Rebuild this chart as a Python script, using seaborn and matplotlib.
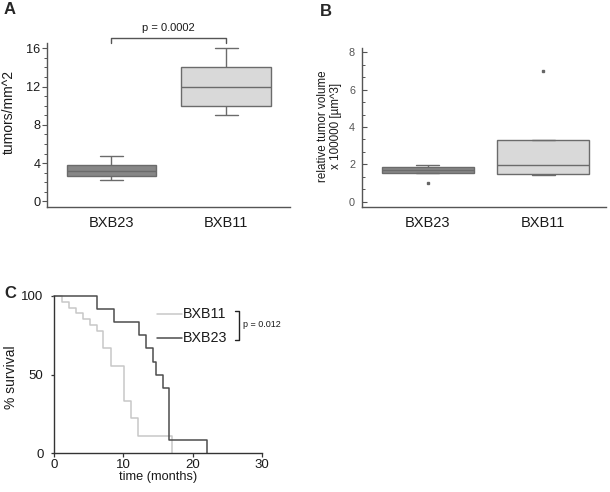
import numpy as np
import pandas as pd
import matplotlib
matplotlib.use("Agg")
import matplotlib.pyplot as plt
import seaborn as sns
from matplotlib.ticker import MultipleLocator

# ---------------- data ----------------
groups = ["BXB23", "BXB11"]

# Panel A: tumor density (tumors/mm^2)
density_bxb23 = [2.2, 2.7, 3.2, 3.85, 4.7]
density_bxb11 = [9.0, 10.0, 12.0, 14.0, 16.0]
p_density = "p = 0.0002"

# Panel B: relative tumor volume x 100000 [µm^3]
volume_bxb23 = [1.0, 1.55, 1.55, 1.72, 1.87, 1.87, 1.97]
volume_bxb11 = [1.45, 1.5, 1.95, 3.3, 7.0]

# Panel C: Kaplan-Meier survival
km_time_bxb11 = [0, 1.1, 2.2, 3.2, 4.2, 5.2, 6.2, 7.1, 8.2, 10.1, 11.1, 12.1, 17.0]
km_surv_bxb11 = [100, 96.3, 92.6, 88.9, 85.2, 81.5, 77.8, 66.7, 55.6, 33.3, 22.2, 11.1, 0]
km_time_bxb23 = [0, 6.15, 8.65, 12.2, 13.2, 14.2, 14.65, 15.65, 16.6, 22.0]
km_surv_bxb23 = [100, 91.7, 83.3, 75.0, 66.7, 58.3, 50.0, 41.7, 8.3, 0]
p_survival = "p = 0.012"

# ---------------- style ----------------
sns.set_theme(style="white")
plt.rcParams['font.family'] = ['Liberation Sans', 'DejaVu Sans']

W, H = 610, 492
fig = plt.figure(figsize=(W / 100, H / 100), dpi=100)


def rect(l, t, r, b):
    return [l / W, 1 - b / H, (r - l) / W, (b - t) / H]


palette = {"BXB23": "#878787", "BXB11": "#d9d9d9"}
edge = "#6b6b6b"
spine_col = "#555555"
txt = "#1a1a1a"


def style_box_axes(ax):
    for s in ["top", "right"]:
        ax.spines[s].set_visible(False)
    for s in ["left", "bottom"]:
        ax.spines[s].set_color(spine_col)
        ax.spines[s].set_linewidth(1.0)


# ---------------- Panel A ----------------
axA = fig.add_axes(rect(46.7, 43, 290, 206.7))
dfA = pd.DataFrame({
    "group": ["BXB23"] * len(density_bxb23) + ["BXB11"] * len(density_bxb11),
    "value": density_bxb23 + density_bxb11,
})
sns.boxplot(data=dfA, x="group", y="value", hue="group", order=groups,
            hue_order=groups, palette=palette, saturation=1, width=0.78,
            linecolor=edge, linewidth=1.0, legend=False, ax=axA,
            capwidths=0.2)
axA.set_xlim(-0.564, 1.555)
axA.set_ylim(-0.56, 16.55)
axA.set_yticks([0, 4, 8, 12, 16])
axA.yaxis.set_minor_locator(MultipleLocator(1))
style_box_axes(axA)
axA.tick_params(axis="y", which="major", left=True, direction="out",
                length=3.6, width=0.8, color=spine_col, pad=1,
                labelsize=9.2, labelcolor=txt)
axA.tick_params(axis="y", which="minor", left=True, direction="out",
                length=2.2, width=0.7, color=spine_col)
axA.tick_params(axis="x", length=0, pad=6.5, labelsize=10.5, labelcolor=txt)
axA.set_xlabel("")
axA.set_ylabel("tumors/mm^2", fontsize=10, color=txt)
axA.yaxis.set_label_coords(-0.125, 0.58)
# significance bracket
axA.plot([0, 0, 1, 1], [16.6, 17.05, 17.05, 16.6], color="#555555",
         lw=1.0, clip_on=False)
axA.text(0.5, 18.1, p_density, ha="center", va="center", fontsize=8,
         color=txt)

# ---------------- Panel B ----------------
axB = fig.add_axes(rect(362, 48, 606, 206.7))
dfB = pd.DataFrame({
    "group": ["BXB23"] * len(volume_bxb23) + ["BXB11"] * len(volume_bxb11),
    "value": volume_bxb23 + volume_bxb11,
})
sns.boxplot(data=dfB, x="group", y="value", hue="group", order=groups,
            hue_order=groups, palette=palette, saturation=1, width=0.8,
            linecolor=edge, linewidth=1.0, legend=False, ax=axB,
            capwidths=0.2,
            flierprops=dict(marker="s", markersize=1.7,
                            markerfacecolor="#666666",
                            markeredgecolor="#666666"))
axB.set_xlim(-0.57, 1.545)
axB.set_ylim(-0.27, 8.23)
axB.set_yticks([0, 2, 4, 6, 8])
axB.yaxis.set_minor_locator(MultipleLocator(2 / 3))
style_box_axes(axB)
axB.tick_params(axis="y", which="major", left=True, direction="in",
                length=3.6, width=0.8, color=spine_col, pad=5,
                labelsize=7.8, labelcolor="#555555")
axB.tick_params(axis="y", which="minor", left=True, direction="in",
                length=2.2, width=0.7, color=spine_col)
axB.tick_params(axis="x", length=0, pad=6.5, labelsize=10.5, labelcolor=txt)
axB.set_xlabel("")
axB.set_ylabel("relative tumor volume\nx 100000 [µm^3]", fontsize=8.4,
               color=txt, linespacing=1.1)
axB.yaxis.set_label_coords(-0.083, 0.508)

# ---------------- Panel C ----------------
axC = fig.add_axes(rect(54, 296, 262.3, 453.3))
sns.lineplot(x=km_time_bxb11, y=km_surv_bxb11, drawstyle="steps-post",
             color="#c8c8c8", lw=1.1, estimator=None, sort=False, ax=axC)
sns.lineplot(x=km_time_bxb23, y=km_surv_bxb23, drawstyle="steps-post",
             color="#4d4d4d", lw=1.1, estimator=None, sort=False, ax=axC)
for ln in axC.lines:
    ln.set_clip_on(False)
axC.set_xlim(0, 30)
axC.set_ylim(0, 100)
axC.set_xticks([0, 10, 20, 30])
axC.set_yticks([0, 50, 100])
for s in ["top", "right"]:
    axC.spines[s].set_visible(False)
for s in ["left", "bottom"]:
    axC.spines[s].set_color("#333333")
    axC.spines[s].set_linewidth(1.0)
axC.tick_params(axis="x", bottom=True, direction="out", length=3,
                width=0.9, color="#333333", pad=1, labelsize=9.5,
                labelcolor=txt)
axC.tick_params(axis="y", left=True, direction="out", length=2.5,
                width=0.9, color="#333333", pad=5, labelsize=9.5,
                labelcolor=txt)
axC.set_xlabel("time (months)", fontsize=9.2, color=txt, labelpad=0)
axC.set_ylabel("% survival", fontsize=10, color=txt)
axC.yaxis.set_label_coords(-0.173, 0.485)
# legend drawn manually
axC.plot([14.83, 18.4], [88.4, 88.4], color="#c8c8c8", lw=1.1, clip_on=False)
axC.plot([14.83, 18.4], [73.5, 73.5], color="#4d4d4d", lw=1.1, clip_on=False)
axC.text(18.6, 88.4, "BXB11", fontsize=10.3, va="center", ha="left", color=txt)
axC.text(18.6, 73.5, "BXB23", fontsize=10.3, va="center", ha="left", color=txt)
axC.plot([26.06, 26.7, 26.7, 26.06], [90.5, 90.5, 72.0, 72.0],
         color="#222222", lw=1.0, clip_on=False)
axC.text(27.2, 81.6, p_survival, fontsize=6.5, va="center", ha="left",
         color=txt)

# ---------------- panel letters ----------------
fig.text(4 / W, 1 - 10 / H, "A", fontsize=12, fontweight="heavy", va="center")
fig.text(320 / W, 1 - 11 / H, "B", fontsize=12, fontweight="heavy", va="center")
fig.text(4 / W, 1 - 293 / H, "C", fontsize=12, fontweight="heavy", va="center")

fig.savefig("out.png", dpi=100)
